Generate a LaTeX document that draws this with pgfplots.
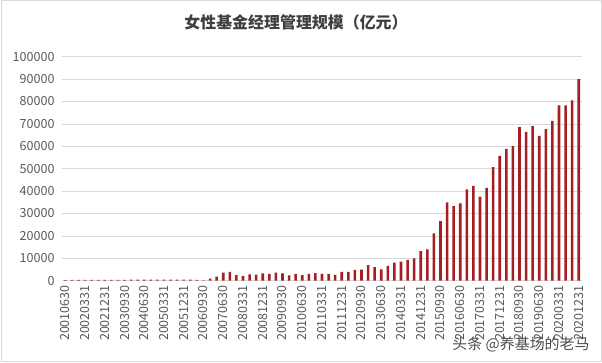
\documentclass[border=0pt]{standalone}
\usepackage{pgfplots}
\pgfplotsset{compat=1.18}
\usepackage{fontspec}
\newfontfamily\cjk{Noto Sans CJK SC}
\definecolor{barred}{RGB}{165,30,35}
\definecolor{gridc}{RGB}{217,217,217}
\definecolor{txt}{RGB}{89,89,89}
\definecolor{ttl}{RGB}{64,64,64}
\begin{document}
\begin{tikzpicture}[x=1bp,y=1bp]
\path[use as bounding box] (0,0) rectangle (602,362);
\draw[gridc, line width=1bp] (1,1) rectangle (601,361);
\node[font=\cjk\bfseries\fontsize{16}{18}\selectfont, text=ttl] at (296,340) {女性基金经理管理规模（亿元）};
\begin{axis}[
  at={(62bp,81.3bp)}, anchor=south west, scale only axis,
  width=520bp, height=224bp,
  xmin=-0.5, xmax=78.5, ymin=0, ymax=100000,
  ytick={0,10000,20000,30000,40000,50000,60000,70000,80000,90000,100000},
  scaled y ticks=false,
  /pgf/number format/fixed, /pgf/number format/1000 sep={}, /pgf/number format/assume math mode=true,
  ymajorgrids, grid style={gridc, line width=0.8bp},
  axis line style={draw=none}, major tick length=0pt,
  tick label style={font=\cjk\fontsize{12.6}{14}\selectfont, text=txt},
  yticklabel style={xshift=-4bp},
  xtick={0,3,...,78},
  xticklabels={20010630,20020331,20021231,20030930,20040630,20050331,20051231,20060930,20070630,20080331,20081231,20090930,20100630,20110331,20111231,20120930,20130630,20140331,20141231,20150930,20160630,20170331,20171231,20180930,20190630,20200331,20201231},
  xticklabel style={rotate=90, anchor=east, xshift=-1bp},
  ybar, bar width=2.6bp,
  clip=false,
]
\addplot[fill=barred, draw=none] coordinates {
(0,300)(1,350)(2,350)(3,350)(4,400)(5,400)(6,400)(7,400)(8,400)(9,400)
(10,450)(11,450)(12,450)(13,450)(14,450)(15,450)(16,450)(17,450)(18,450)(19,450)
(20,400)(21,100)(22,900)(23,1800)(24,3600)(25,3900)(26,2500)(27,2200)(28,2800)(29,2700)
(30,3300)(31,3000)(32,3600)(33,3300)(34,2400)(35,3100)(36,2500)(37,3100)(38,3400)(39,3100)
(40,3000)(41,2600)(42,3900)(43,3900)(44,4800)(45,4900)(46,7000)(47,6100)(48,5100)(49,6600)
(50,8100)(51,8500)(52,9300)(53,10000)(54,13200)(55,14000)(56,21100)(57,26600)(58,35000)(59,33300)
(60,34500)(61,40800)(62,42300)(63,37500)(64,41400)(65,50700)(66,55700)(67,58800)(68,60100)(69,68600)
(70,66400)(71,69000)(72,64600)(73,67700)(74,71300)(75,78300)(76,78300)(77,80500)(78,90000)
};
\end{axis}
\node[font=\cjk\fontsize{15}{17}\selectfont, text=black!70] at (521,18) {头条 @养基场的老马};
\end{tikzpicture}
\end{document}
